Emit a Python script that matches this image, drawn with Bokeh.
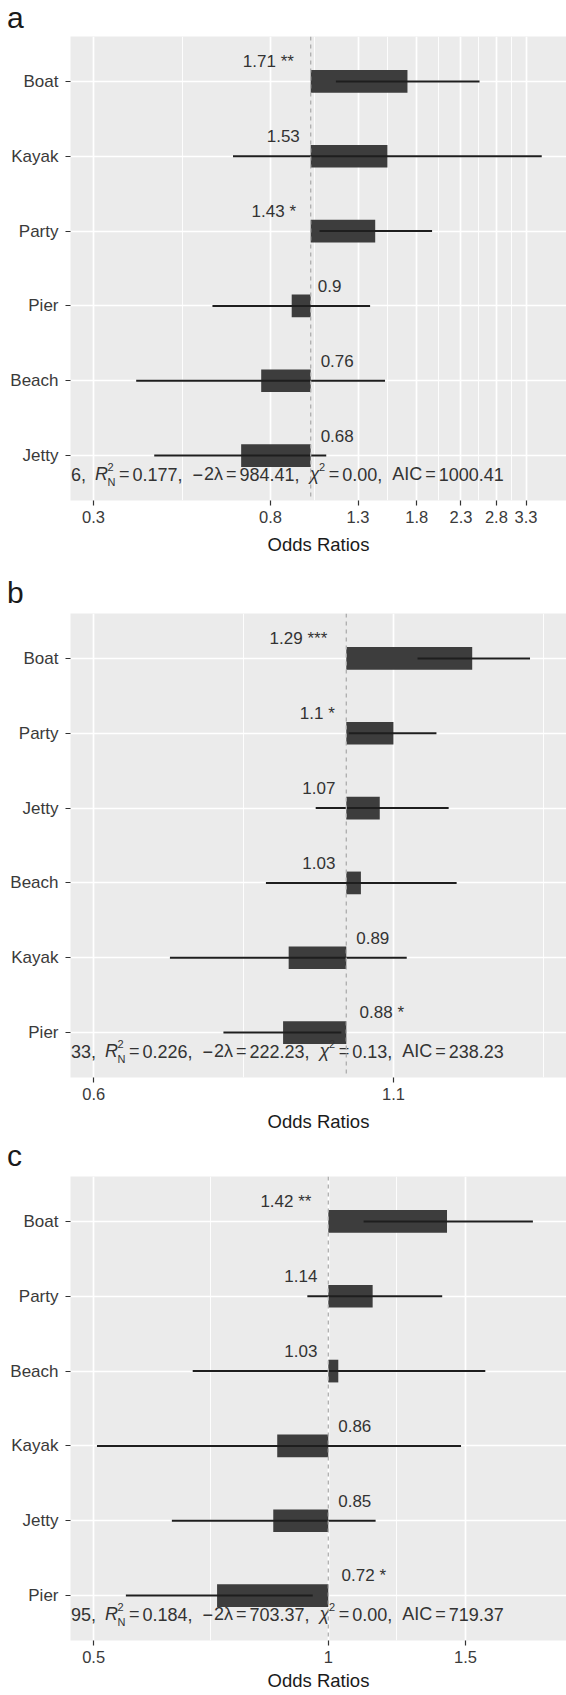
import math
from bokeh.plotting import figure
from bokeh.models import Range1d, FixedTicker, Span, ColumnDataSource, Div
from bokeh.layouts import column
from bokeh.embed import file_html
from bokeh.resources import INLINE
from bokeh.core.properties import value

# ---------------- data ----------------
cats_a = ["Boat", "Kayak", "Party", "Pier", "Beach", "Jetty"]
or_a = [1.71, 1.53, 1.43, 0.9, 0.76, 0.68]
lo_a = [1.15, 0.65, 1.05, 0.58, 0.38, 0.42]
hi_a = [2.55, 3.60, 1.96, 1.39, 1.51, 1.09]
sig_a = ["**", "", "*", "", "", ""]
ticks_a = [0.3, 0.8, 1.3, 1.8, 2.3, 2.8, 3.3]
stats_a = ["6,", "0.177", "984.41", "0.00", "1000.41"]
xr_a = (0.264, 4.13)

cats_b = ["Boat", "Party", "Jetty", "Beach", "Kayak", "Pier"]
or_b = [1.29, 1.1, 1.07, 1.03, 0.89, 0.88]
lo_b = [1.155, 1.005, 0.94, 0.85, 0.70, 0.78]
hi_b = [1.45, 1.20, 1.23, 1.25, 1.13, 0.99]
sig_b = ["***", "*", "", "", "", "*"]
ticks_b = [0.6, 1.1]
stats_b = ["33,", "0.226", "222.23", "0.13", "238.23"]
xr_b = (0.5725, 1.561)

cats_c = ["Boat", "Party", "Beach", "Kayak", "Jetty", "Pier"]
or_c = [1.42, 1.14, 1.03, 0.86, 0.85, 0.72]
lo_c = [1.11, 0.94, 0.67, 0.505, 0.63, 0.55]
hi_c = [1.83, 1.40, 1.59, 1.48, 1.15, 0.955]
sig_c = ["**", "", "", "", "", "*"]
ticks_c = [0.5, 1, 1.5]
stats_c = ["95,", "0.184", "703.37", "0.00", "719.37"]
xr_c = (0.467, 2.021)

# ---------------- styling ----------------
FONT = "Liberation Sans"
BG = "#EBEBEB"
BAR = "#3d3d3d"
CI = "#1e1e1e"
TXT = "#333333"
TICKTXT = "#3a3a3a"
WIDTH = 566
LEFT = 70
FRAME_W = WIDTH - LEFT
FRAME_H = 464

ADV = {"0": .556, "1": .556, "2": .556, "3": .556, "4": .556, "5": .556,
       "6": .556, "7": .556, "8": .556, "9": .556, ".": .278, ",": .278,
       " ": .278, "=": .584, "\u2212": .584, "A": .667, "I": .278, "C": .722,
       "R": .667, "N": .722, "\u03bb": .5, "\u03c7": .5, "*": .389}


def tw(s, size):
    return sum(ADV.get(ch, 0.556) for ch in s) * size


def minor_breaks(ticks, lo, hi):
    ext = list(ticks)
    if len(ext) >= 2:
        r = ext[1] / ext[0]
        ext = [ext[0] / r] + ext + [ext[-1] * r]
    mids = [math.sqrt(a * b) for a, b in zip(ext[:-1], ext[1:])]
    return [m for m in mids if lo < m < hi]


def letter_div(letter, h, baseline):
    top = baseline - 25.4
    html = (f'<div style="position:relative;width:{WIDTH}px;height:{h}px;">'
            f'<span style="position:absolute;left:7px;top:{top:.1f}px;'
            f"font-family:'Liberation Sans';font-size:30px;line-height:30px;"
            f'color:#1a1a1a;">{letter}</span></div>')
    return Div(text=html, width=WIDTH, height=h, margin=0)


def build(cats, ors, los, his, sigs, ticks, stats, xr, bottom, label_standoff):
    n = len(cats)
    y0, y1 = -0.6, n - 1 + 0.6
    upp = (y1 - y0) / FRAME_H
    ys = [n - 1 - i for i in range(n)]
    p = figure(width=WIDTH, height=FRAME_H + bottom,
               x_axis_type="log", x_range=Range1d(*xr), y_range=Range1d(y0, y1),
               output_backend="svg", toolbar_location=None, title_location=None,
               min_border_left=LEFT, min_border_right=0,
               min_border_top=0, min_border_bottom=bottom)
    p.background_fill_color = BG
    p.border_fill_color = "white"
    p.outline_line_color = None

    # axes / grid
    xt = FixedTicker(ticks=ticks, minor_ticks=minor_breaks(ticks, *xr))
    p.xaxis.ticker = xt
    p.xgrid.ticker = xt
    p.xaxis.major_label_overrides = {t: f"{t:g}" for t in ticks}
    yt = FixedTicker(ticks=ys)
    p.yaxis.ticker = yt
    p.ygrid.ticker = yt
    p.yaxis.major_label_overrides = {y: c for y, c in zip(ys, cats)}
    for ax in (p.xaxis, p.yaxis):
        ax.axis_line_color = None
        ax.minor_tick_line_color = None
        ax.major_tick_in = 0
        ax.major_tick_out = 5
        ax.major_tick_line_color = "#333333"
        ax.major_tick_line_width = 1.2
        ax.major_label_text_font = FONT
        ax.major_label_text_color = TICKTXT
    p.xaxis.major_label_text_font_size = "16.5px"
    p.yaxis.major_label_text_font_size = "17px"
    p.xaxis.major_label_standoff = 5
    p.yaxis.major_label_standoff = 7
    p.xaxis.axis_label = "Odds Ratios"
    p.xaxis.axis_label_text_font = FONT
    p.xaxis.axis_label_text_font_size = "18.5px"
    p.xaxis.axis_label_text_font_style = "normal"
    p.xaxis.axis_label_text_color = "#1a1a1a"
    p.xaxis.axis_label_standoff = label_standoff
    p.xgrid.grid_line_color = "white"
    p.xgrid.grid_line_width = 1.7
    p.xgrid.minor_grid_line_color = "white"
    p.xgrid.minor_grid_line_width = 0.9
    p.ygrid.grid_line_color = "white"
    p.ygrid.grid_line_width = 1.7

    # bars and confidence intervals
    src = ColumnDataSource(dict(y=ys, orv=ors, lo=los, hi=his, base=[1.0] * n))
    p.hbar(y="y", left="base", right="orv", height=22.7 * upp, source=src,
           fill_color=BAR, line_color=None)
    p.segment(x0="lo", y0="y", x1="hi", y1="y", source=src,
              line_color=CI, line_width=2)

    # value labels
    labels = [f"{v:g}" + (" " + s if s else "") for v, s in zip(ors, sigs)]
    aligns = ["right" if v > 1 else "left" for v in ors]
    offs = [-0.33 * tw(l, 17) if v > 1 else 0.3 * tw(l, 17)
            for l, v in zip(labels, ors)]
    p.text(x=[1.0] * n, y=[y + 20 * upp for y in ys], text=labels,
           text_align=aligns, x_offset=offs, text_baseline="middle",
           text_font=value(FONT), text_font_size="17px", text_color=TXT)

    # model statistics line
    pre, r2, m2l, chi, aic = stats
    fs, ss, gap, eq = 18, 11, 10, 3
    seq = [(pre, "normal", "main", 0, 9),
           ("R", "italic", "main", 0, 0.5),
           ("2", "normal", "sup", 0, None),
           ("N", "normal", "sub", 0, 0.5),
           ("=", "normal", "main", eq, eq),
           (r2 + ",", "normal", "main", 0, gap),
           ("\u2212", "normal", "main", 0, 1),
           ("2\u03bb", "normal", "main", 0, 0),
           ("=", "normal", "main", eq, eq),
           (m2l + ",", "normal", "main", 0, gap),
           ("\u03c7", "italic", "main", 0, 0.5),
           ("2", "normal", "sup", 0, 0.5),
           ("=", "normal", "main", eq, eq),
           (chi + ",", "normal", "main", 0, gap),
           ("AIC", "normal", "main", 0, 0),
           ("=", "normal", "main", eq, eq),
           (aic, "normal", "main", 0, 0)]
    base_y = y0 + 26.5 * upp
    tx, ty, tt, tst, tsz, tof = [], [], [], [], [], []
    x = 0.5
    for text, style, kind, before, after in seq:
        size = fs if kind == "main" else ss
        dy = {"main": 0, "sup": 7.5, "sub": -7.5}[kind]
        x += before
        tx.append(xr[0]); ty.append(base_y + dy * upp); tt.append(text)
        tst.append(style); tsz.append(f"{size}px"); tof.append(x)
        if after is not None:
            x += tw(text, size) + after
    p.text(x=tx, y=ty, text=tt, x_offset=tof, text_font_style=tst,
           text_font_size=tsz, text_baseline="alphabetic", text_align="left",
           text_font=value(FONT), text_color=TXT)

    # reference line at OR = 1
    p.add_layout(Span(location=1, dimension="height", line_color="#ADADAD",
                      line_dash="4 4", line_width=1.3))
    return p


ta = letter_div("a", 36, 28.3)
pa = build(cats_a, or_a, lo_a, hi_a, sig_a, ticks_a, stats_a, xr_a, 58, 8)
tb = letter_div("b", 55, 45.6)
pb = build(cats_b, or_b, lo_b, hi_b, sig_b, ticks_b, stats_b, xr_b, 58, 8)
tc = letter_div("c", 41, 31.6)
pc = build(cats_c, or_c, lo_c, hi_c, sig_c, ticks_c, stats_c, xr_c, 54, 4)

layout = column(ta, pa, tb, pb, tc, pc, spacing=0)
open("out.html", "w").write(file_html(layout, INLINE))
